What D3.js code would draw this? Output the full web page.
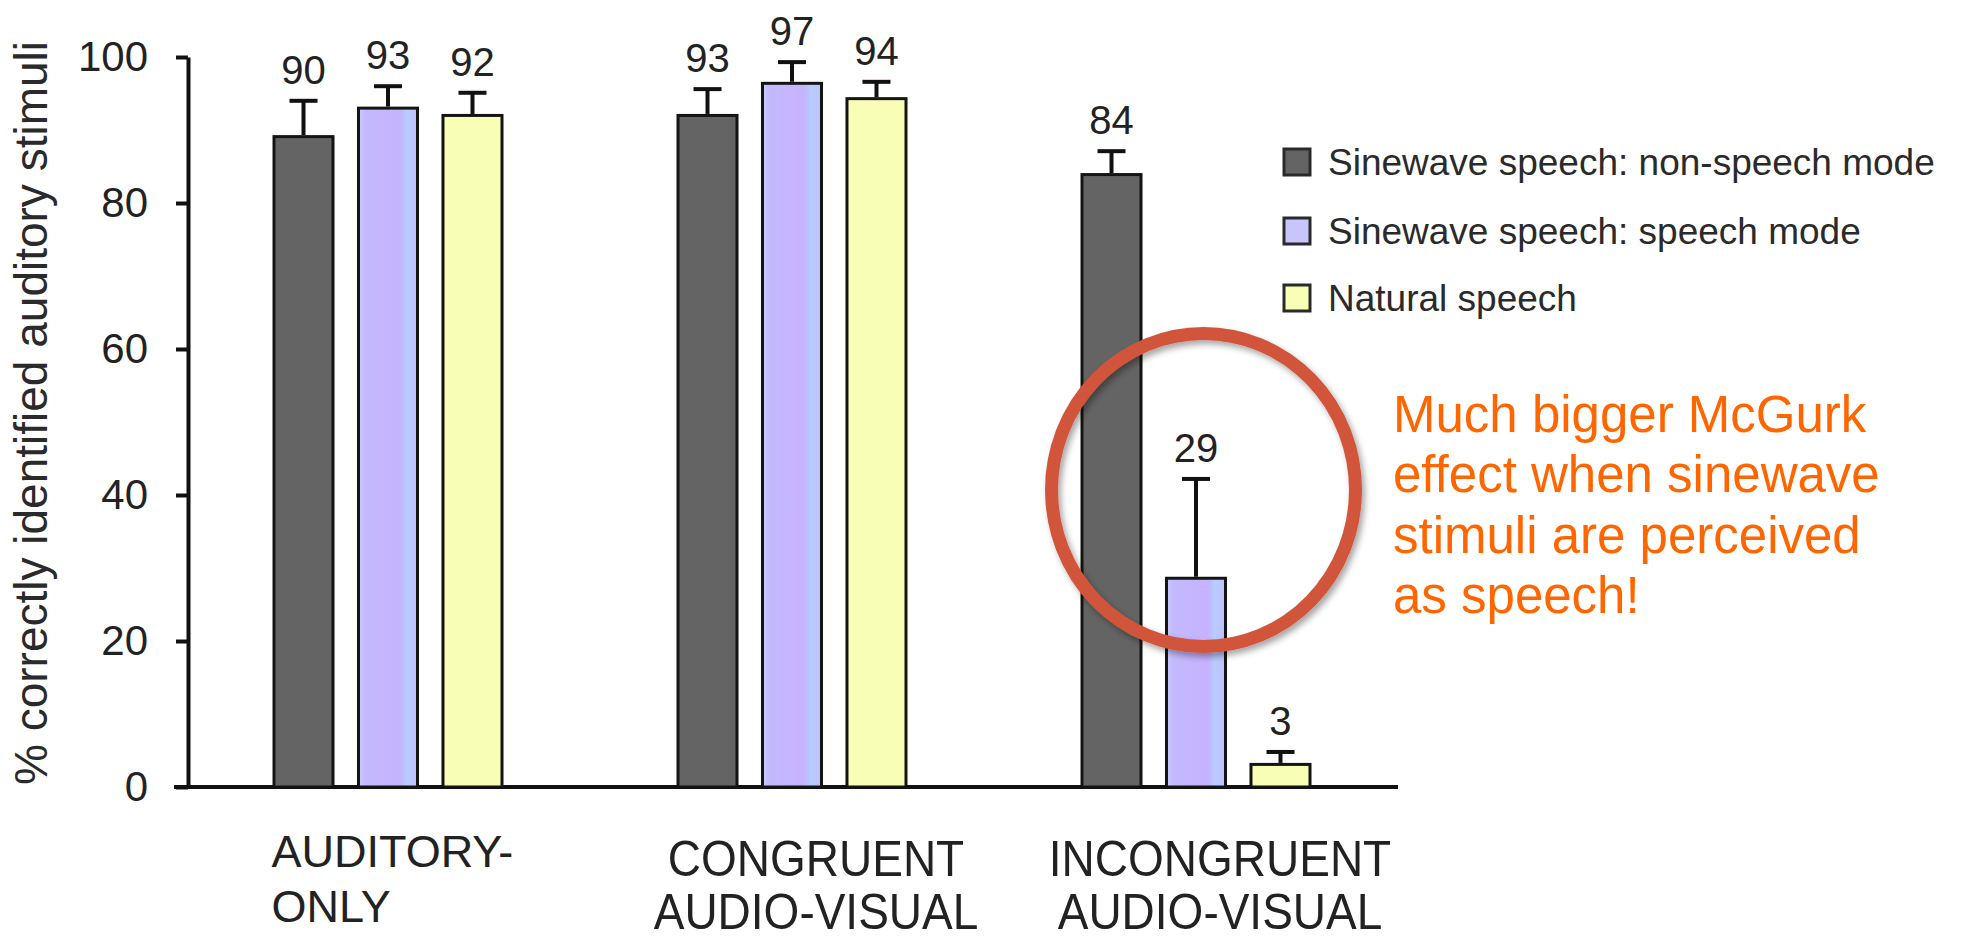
<!DOCTYPE html>
<html lang="en">
  <head>
    <meta charset="utf-8">
    <title>McGurk effect bar chart</title>
    <style type="text/css">
      body{
        margin: 0;
        background-color: white;
      }
      svg{
        display: block;
        font-family: "Liberation Sans", Arial, sans-serif;
      }
      .tick text{
        font-size: 42px;
        fill: #222;
      }
    </style>
  </head>
  <body>
    <div id='svg_container'></div>

    <script src="https://d3js.org/d3.v7.min.js"></script>
    <script type="text/javascript">

      // categories and series
      const groups = ['AUDITORY-ONLY', 'CONGRUENT AUDIO-VISUAL', 'INCONGRUENT AUDIO-VISUAL'];
      const groupLines = [['AUDITORY-', 'ONLY'], ['CONGRUENT', 'AUDIO-VISUAL'], ['INCONGRUENT', 'AUDIO-VISUAL']];
      const series = ['Sinewave speech: non-speech mode', 'Sinewave speech: speech mode', 'Natural speech'];

      // bar heights (%)
      const nonSpeech = [89.3, 92.2, 84.1];
      const speechMode = [93.2, 96.6, 28.8];
      const natural = [92.2, 94.5, 3.3];

      // error bar lengths (above the bar)
      const nonSpeechErr = [4.7, 3.4, 3.0];
      const speechModeErr = [2.8, 2.7, 13.4];
      const naturalErr = [2.9, 2.1, 1.5];

      // printed value labels
      const nonSpeechLabels = ['90', '93', '84'];
      const speechModeLabels = ['93', '97', '29'];
      const naturalLabels = ['92', '94', '3'];

      const yTicks = [0, 20, 40, 60, 80, 100];

      const note = ['Much bigger McGurk', 'effect when sinewave', 'stimuli are perceived', 'as speech!'];

      const colors = ['#646464', 'url(#lav)', '#f9feb6'];
      const legendColors = ['#646464', '#c8c4fc', '#f9feb6'];

      const w = 1969;
      const h = 941;

      const values = [nonSpeech, speechMode, natural];
      const errs = [nonSpeechErr, speechModeErr, naturalErr];
      const labels = [nonSpeechLabels, speechModeLabels, naturalLabels];

      var rows = [];
      groups.forEach(function(g, gi){
        series.forEach(function(s, si){
          rows.push({group: g, series: s, si: si, v: values[si][gi], e: errs[si][gi], label: labels[si][gi]});
        });
      });

      var svg = d3.select('#svg_container').append('svg').attr('width', w).attr('height', h);

      var defs = svg.append('defs');
      var lav = defs.append('linearGradient').attr('id', 'lav').attr('x1', '0').attr('x2', '1').attr('y1', '0').attr('y2', '0');
      [[0, '#c9cbfd'], [0.12, '#c3b9fe'], [0.7, '#c6b2fe'], [0.82, '#b7cdfe'], [1, '#c2c0fe']].forEach(function(s){
        lav.append('stop').attr('offset', s[0]).attr('stop-color', s[1]);
      });
      var shadow = defs.append('filter').attr('id', 'shadow').attr('x', '-20%').attr('y', '-20%').attr('width', '140%').attr('height', '140%');
      shadow.append('feDropShadow').attr('dx', 3).attr('dy', 4).attr('stdDeviation', 3)
          .attr('flood-color', '#000').attr('flood-opacity', 0.35);

      var scaleY = d3.scaleLinear().domain([0, 100]).range([787, 57]);
      var scaleX = d3.scaleBand().domain(groups).range([186, 1398]);
      var inner = 231;
      var scaleS = d3.scaleBand().domain(series).range([0, inner]).paddingInner(0.266);

      function barX(d){
        return scaleX(d.group) + (scaleX.bandwidth() - inner) / 2 + scaleS(d.series);
      }

      var axisX = 188;

      // y axis
      var yAxis = d3.axisLeft(scaleY).tickValues(yTicks).tickSize(12).tickSizeOuter(0).tickPadding(28);
      var gy = svg.append('g').attr('id', 'y-axis').attr('transform', 'translate(' + axisX + ',0)').call(yAxis);
      gy.select('.domain').attr('stroke', '#111').attr('stroke-width', 4);
      gy.selectAll('.tick line').attr('stroke', '#111').attr('stroke-width', 4);
      gy.selectAll('.tick text').attr('font-family', '"Liberation Sans", Arial, sans-serif');

      // x baseline
      svg.append('line').attr('x1', axisX - 14).attr('x2', scaleX.range()[1])
          .attr('y1', scaleY(0)).attr('y2', scaleY(0)).attr('stroke', '#111').attr('stroke-width', 4);

      svg.append('text').text('% correctly identified auditory stimuli')
          .attr('transform', 'rotate(-90)').attr('x', -413).attr('y', 47)
          .attr('text-anchor', 'middle').style('font-size', '46px').style('fill', '#2a2a2a');

      // error bars
      var eb = svg.selectAll('.err').data(rows).enter().append('g').attr('class', 'err');
      eb.append('line')
          .attr('x1', (d) => barX(d) + scaleS.bandwidth() / 2).attr('x2', (d) => barX(d) + scaleS.bandwidth() / 2)
          .attr('y1', (d) => scaleY(d.v)).attr('y2', (d) => scaleY(d.v + d.e))
          .attr('stroke', '#111').attr('stroke-width', 4);
      eb.append('line')
          .attr('x1', (d) => barX(d) + scaleS.bandwidth() / 2 - 14).attr('x2', (d) => barX(d) + scaleS.bandwidth() / 2 + 14)
          .attr('y1', (d) => scaleY(d.v + d.e)).attr('y2', (d) => scaleY(d.v + d.e))
          .attr('stroke', '#111').attr('stroke-width', 4);

      // bars
      svg.selectAll('rect.bar').data(rows).enter().append('rect').attr('class', 'bar')
          .attr('x', (d) => barX(d) + 1.5).attr('width', scaleS.bandwidth() - 3)
          .attr('y', (d) => scaleY(d.v) + 1.5).attr('height', (d) => scaleY(0) - scaleY(d.v) - 1.5)
          .attr('fill', (d) => colors[d.si]).attr('stroke', '#141414').attr('stroke-width', 3);

      // value labels
      svg.selectAll('text.val').data(rows).enter().append('text').attr('class', 'val')
          .text((d) => d.label)
          .attr('x', (d) => barX(d) + scaleS.bandwidth() / 2).attr('y', (d) => scaleY(d.v + d.e) - 17)
          .attr('text-anchor', 'middle').style('font-size', '40px').style('fill', '#222');

      // category labels
      groupLines.forEach(function(lines, gi){
        var g = groups[gi];
        var x0 = scaleX(g) + (scaleX.bandwidth() - inner) / 2;
        lines.forEach(function(line, li){
          var t = svg.append('text').text(line).style('font-size', '46px').style('fill', '#222');
          if (gi == 0){
            t.attr('x', x0 - 1).attr('y', 867 + li * 55).attr('text-anchor', 'start').style('font-size', '45px');
          } else {
            var cx = scaleX(g) + scaleX.bandwidth() / 2 + 24;
            var by = 876 + li * 53;
            t.attr('text-anchor', 'middle').attr('transform', 'translate(' + cx + ',' + by + ') scale(1,1.1)');
          }
        });
      });

      // legend
      var lg = svg.selectAll('.legend').data(series).enter().append('g').attr('class', 'legend')
          .attr('transform', (d, i) => 'translate(1284,' + [162, 231, 298][i] + ')');
      lg.append('rect').attr('x', 0).attr('y', -13).attr('width', 26).attr('height', 26)
          .attr('fill', (d, i) => legendColors[i]).attr('stroke', '#2a2a2a').attr('stroke-width', 3);
      lg.append('text').text((d) => d).attr('x', 44).attr('y', 13)
          .style('font-size', '37px').style('fill', '#2a2a2a');

      // annotation
      svg.append('ellipse').attr('cx', 1203.5).attr('cy', 490).attr('rx', 152).attr('ry', 156.5)
          .attr('fill', 'none').attr('stroke', '#d1553a').attr('stroke-width', 13).attr('filter', 'url(#shadow)');

      svg.selectAll('text.note').data(note).enter().append('text').attr('class', 'note')
          .text((d) => d).attr('x', 1393).attr('y', (d, i) => 432 + i * 60.3)
          .style('font-size', '51px').style('fill', '#ff6600');

    </script>
  </body>
</html>
